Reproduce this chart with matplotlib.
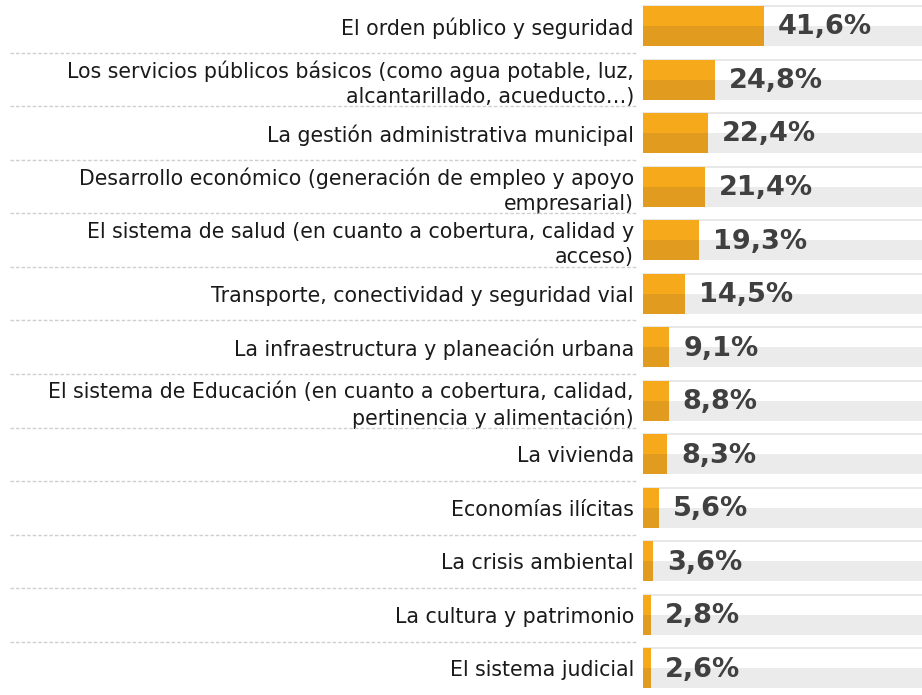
"""Horizontal bar chart of priority issues (percent of respondents)."""

import matplotlib.pyplot as plt
from matplotlib.transforms import blended_transform_factory

categories = [
    "El orden público y seguridad",
    "Los servicios públicos básicos (como agua potable, luz,\nalcantarillado, acueducto…)",
    "La gestión administrativa municipal",
    "Desarrollo económico (generación de empleo y apoyo\nempresarial)",
    "El sistema de salud (en cuanto a cobertura, calidad y\nacceso)",
    "Transporte, conectividad y seguridad vial",
    "La infraestructura y planeación urbana",
    "El sistema de Educación (en cuanto a cobertura, calidad,\npertinencia y alimentación)",
    "La vivienda",
    "Economías ilícitas",
    "La crisis ambiental",
    "La cultura y patrimonio",
    "El sistema judicial",
]
values = [41.6, 24.8, 22.4, 21.4, 19.3, 14.5, 9.1, 8.8, 8.3, 5.6, 3.6, 2.8, 2.6]

ORANGE_TOP = "#F6A91B"
ORANGE_BOTTOM = "#E19C1F"
TRACK_TOP = "#FFFFFF"
TRACK_BOTTOM = "#EBEBEB"
TRACK_LINE = "#E4E4E4"
VALUE_COLOR = "#404040"
LABEL_COLOR = "#1A1A1A"

W, H = 922, 695
fig = plt.figure(figsize=(W / 100, H / 100), dpi=100)
fig.patch.set_facecolor("white")

left_px = 643
ax = fig.add_axes([left_px / W, 0, 1 - left_px / W, 1])

pitch = 53.54
first_center = 26.0
ax.set_ylim((H - first_center) / pitch, -first_center / pitch)
px_per_pct = 121 / 41.6
ax.set_xlim(0, (W - left_px) / px_per_pct)

bar_h = 40 / pitch
half = bar_h / 2
ypos = list(range(len(values)))
full = [100] * len(values)

# background track: white upper half, grey lower half
ax.barh([y - half / 2 for y in ypos], full, height=half, color=TRACK_TOP, zorder=1)
ax.barh([y + half / 2 for y in ypos], full, height=half, color=TRACK_BOTTOM, zorder=1)
ax.hlines([y - half for y in ypos], 0, 100, color=TRACK_LINE, lw=1.2, zorder=1.5)

# orange bars, two tones
ax.barh([y - half / 2 for y in ypos], values, height=half, color=ORANGE_TOP, zorder=2)
ax.barh([y + half / 2 for y in ypos], values, height=half, color=ORANGE_BOTTOM, zorder=2)

for y, v in zip(ypos, values):
    ax.annotate(
        f"{v:.1f}".replace(".", ",") + "%",
        xy=(v, y),
        xytext=(10, -1),
        textcoords="offset points",
        ha="left",
        va="center",
        fontsize=19.5,
        fontweight="bold",
        color=VALUE_COLOR,
        zorder=3,
    )

ax.set_yticks(ypos)
ax.set_yticklabels(categories, fontsize=14.8, color=LABEL_COLOR, linespacing=1.3,
                   multialignment="right")
ax.tick_params(axis="y", length=0, pad=6.5)
ax.tick_params(axis="x", bottom=False, labelbottom=False)
for spine in ax.spines.values():
    spine.set_visible(False)

# dashed separators between label rows
trans = blended_transform_factory(fig.transFigure, ax.transData)
seps = [y + 0.5 for y in ypos[:-1]]
ax.hlines(seps, 10 / W, 637 / W, transform=trans, colors="#CFCFCF",
          linestyles=(0, (2.5, 1.5)), lw=1, clip_on=False)

fig.savefig("out.png", dpi=100, facecolor=fig.get_facecolor())
